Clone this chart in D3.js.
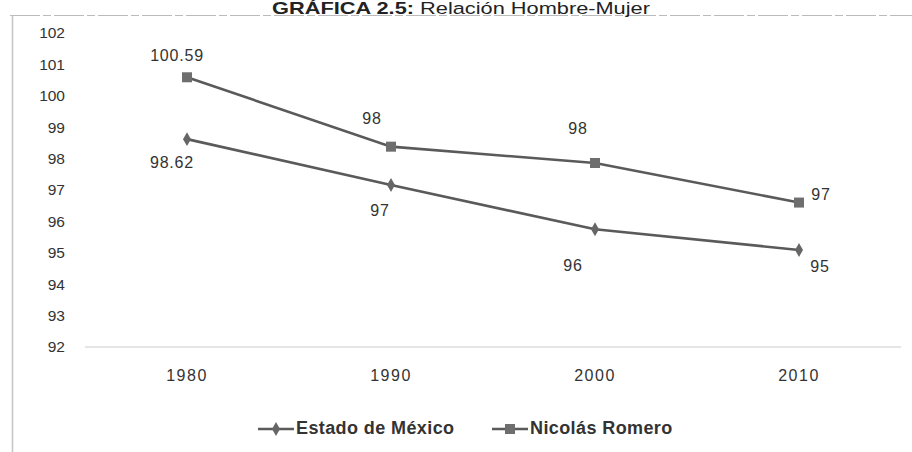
<!DOCTYPE html>
<html>
<head>
<meta charset="utf-8">
<script src="https://cdn.jsdelivr.net/npm/d3@7"></script>
<style>
  html, body { margin: 0; padding: 0; background: #fff; }
  svg { display: block; }
  text { font-family: "Liberation Sans", Arial, sans-serif; }
</style>
</head>
<body>
<svg id="chart" width="912" height="452"></svg>
<script>
// ---- data ----
const years = ["1980", "1990", "2000", "2010"];
const estadoValues = [98.62, 97.16, 95.75, 95.09];
const estadoLabels = ["98.62", "97", "96", "95"];
const romeroValues = [100.59, 98.38, 97.86, 96.6];
const romeroLabels = ["100.59", "98", "98", "97"];
const yTicks = [92, 93, 94, 95, 96, 97, 98, 99, 100, 101, 102];
const seriesNames = ["Estado de México", "Nicolás Romero"];

// label offsets (style, per point)
const estadoLabelOffsets = [[-15, 25], [-11, 27], [-22, 38], [21, 18]];
const romeroLabelOffsets = [[-10, -20], [-19, -27], [-17, -33], [22, -7]];

const svg = d3.select("#chart");
const W = 912, H = 452;
const margin = { left: 85, right: 11, top: 33, bottom: 104 };

// frame
svg.append("line").attr("x1", 10).attr("x2", 912).attr("y1", 15.5).attr("y2", 15.5)
  .attr("stroke", "#bbb").attr("stroke-width", 1).attr("stroke-dasharray", "30,3,8,3");
svg.append("line").attr("x1", 12.5).attr("x2", 12.5).attr("y1", 15).attr("y2", 452)
  .attr("stroke", "#c4c4c4").attr("stroke-width", 1.5);

// title
const titleG = svg.append("g").attr("transform", "translate(461,14) scale(1.32,1)");
const title = titleG.append("text").attr("x", 0).attr("y", 0).attr("text-anchor", "middle")
  .attr("font-size", 16.5).attr("fill", "#222");
title.append("tspan").attr("font-weight", "bold").text("GRÁFICA 2.5: ");
title.append("tspan").text("Relación Hombre-Mujer");

const x = d3.scaleBand().domain(years).range([margin.left, W - margin.right]);
const y = d3.scaleLinear().domain([92, 102]).range([347, 33]);

// baseline gridline
svg.append("line").attr("x1", margin.left).attr("x2", W - margin.right)
  .attr("y1", y(92)).attr("y2", y(92)).attr("stroke", "#ddd").attr("stroke-width", 1.5);

// y axis labels
const yAxis = d3.axisLeft(y).tickValues(yTicks).tickSize(0).tickPadding(0).tickFormat(d3.format("d"));
const yg = svg.append("g").attr("transform", "translate(65,0)").call(yAxis);
yg.select(".domain").remove();
yg.selectAll("text").attr("font-size", 15.5).attr("fill", "#333")
  .attr("font-family", "\"Liberation Sans\", Arial, sans-serif");

// x axis labels
const xAxis = d3.axisBottom(x).tickSize(0).tickPadding(0);
const xg = svg.append("g").attr("transform", "translate(0,370)").call(xAxis);
xg.select(".domain").remove();
xg.selectAll("text").attr("font-size", 16).attr("fill", "#333").attr("letter-spacing", 1.5)
  .attr("font-family", "\"Liberation Sans\", Arial, sans-serif");

const cx = d => x(d) + x.bandwidth() / 2;
const lineGen = d3.line().x(d => cx(d[0])).y(d => y(d[1]));
const lineColor = "#5a5a5a";

function drawSeries(values, labels, offsets, marker) {
  const pts = years.map((yr, i) => [yr, values[i]]);
  svg.append("path").datum(pts).attr("d", lineGen).attr("fill", "none")
    .attr("stroke", lineColor).attr("stroke-width", 2.6);
  if (marker === "square") {
    svg.selectAll(null).data(pts).enter().append("rect")
      .attr("x", d => cx(d[0]) - 5).attr("y", d => y(d[1]) - 5)
      .attr("width", 10).attr("height", 10).attr("fill", "#6e6e6e");
  } else {
    svg.selectAll(null).data(pts).enter().append("path")
      .attr("d", d3.symbol().type(d3.symbolDiamond).size(55))
      .attr("transform", d => `translate(${cx(d[0])},${y(d[1])})`).attr("fill", "#666");
  }
  svg.selectAll(null).data(pts).enter().append("text")
    .attr("x", (d, i) => cx(d[0]) + offsets[i][0])
    .attr("y", (d, i) => y(d[1]) + offsets[i][1])
    .attr("text-anchor", "middle").attr("dominant-baseline", "middle")
    .attr("font-size", 16).attr("letter-spacing", 0.8).attr("fill", "#333")
    .text((d, i) => labels[i]);
}

drawSeries(estadoValues, estadoLabels, estadoLabelOffsets, "diamond");
drawSeries(romeroValues, romeroLabels, romeroLabelOffsets, "square");

// legend
const legend = svg.append("g").attr("transform", "translate(0,429)");
const legendItems = [
  { name: seriesNames[0], x: 258, marker: "diamond" },
  { name: seriesNames[1], x: 492, marker: "square" }
];
legendItems.forEach(it => {
  legend.append("line").attr("x1", it.x).attr("x2", it.x + 36).attr("y1", 0).attr("y2", 0)
    .attr("stroke", lineColor).attr("stroke-width", 2.6);
  if (it.marker === "square") {
    legend.append("rect").attr("x", it.x + 13).attr("y", -5).attr("width", 10).attr("height", 10).attr("fill", "#6e6e6e");
  } else {
    legend.append("path").attr("d", d3.symbol().type(d3.symbolDiamond).size(55))
      .attr("transform", `translate(${it.x + 18},0)`).attr("fill", "#666");
  }
  legend.append("text").attr("x", it.x + 38).attr("y", 0).attr("dominant-baseline", "middle")
    .attr("font-size", 18).attr("letter-spacing", 0.4).attr("font-weight", "bold").attr("fill", "#333")
    .attr("font-family", "\"Liberation Sans Narrow\", \"Liberation Sans\", Arial, sans-serif")
    .text(it.name);
});
</script>
</body>
</html>
